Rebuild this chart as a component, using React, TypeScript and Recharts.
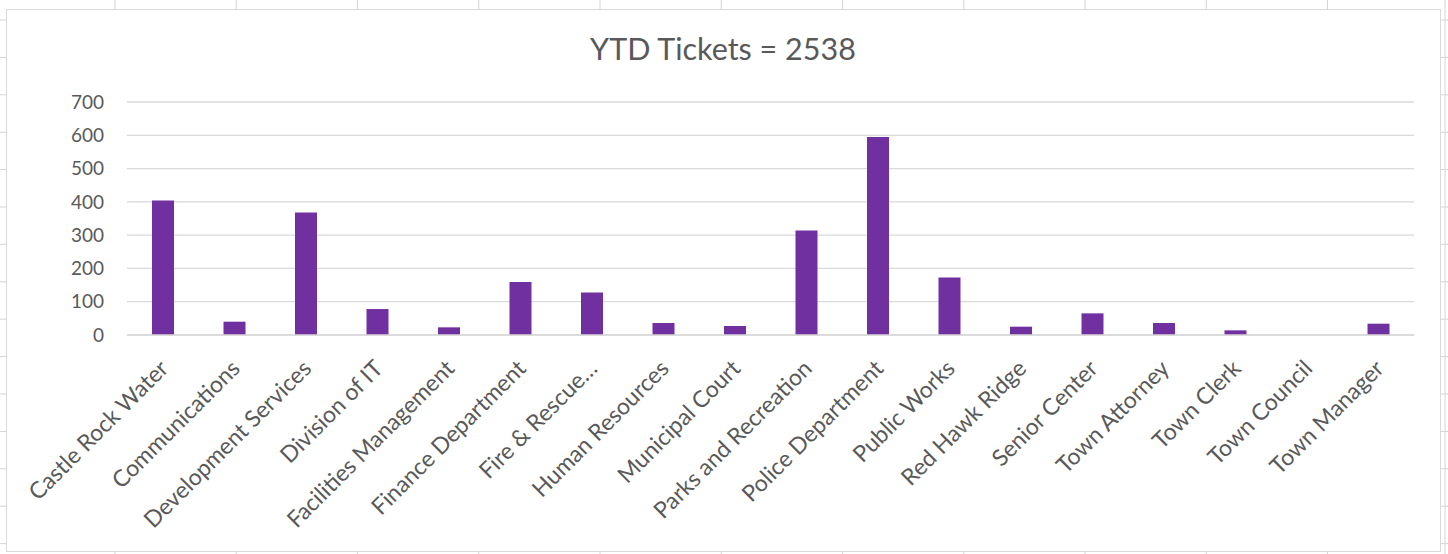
import { BarChart, Bar, XAxis, YAxis, CartesianGrid } from 'recharts';

// Departments and YTD ticket counts
const departments = [
    'Castle Rock Water',
    'Communications',
    'Development Services',
    'Division of IT',
    'Facilities Management',
    'Finance Department',
    'Fire & Rescue…',
    'Human Resources',
    'Municipal Court',
    'Parks and Recreation',
    'Police Department',
    'Public Works',
    'Red Hawk Ridge',
    'Senior Center',
    'Town Attorney',
    'Town Clerk',
    'Town Council',
    'Town Manager',
];

const tickets = [404, 40, 368, 78, 23, 159, 128, 36, 27, 314, 595, 173, 25, 65, 36, 14, 0, 34];

const yTicks = [0, 100, 200, 300, 400, 500, 600, 700];

const title = 'YTD Tickets = 2538';

const data = departments.map((name, i) => ({ name, value: tickets[i] }));

const FONT = 'Lato, "Open Sans", sans-serif';
const TEXT = '#595959';
const GRID = '#d9d9d9';

// spreadsheet cells behind the chart
const rowLines = Array.from({ length: 15 }, (_, i) => 20 + i * 37.4);
const colLines = Array.from({ length: 12 }, (_, i) => 115 + i * 121.25);

const AngledTick = ({ x, y, payload }: any) => {
    const ax = x + 7;
    const ay = y + 35;
    return (
        <text
            x={ax}
            y={ay}
            transform={`rotate(-45, ${ax}, ${ay})`}
            textAnchor="end"
            fill={TEXT}
            fontSize={23}
            fontFamily={FONT}
        >
            {payload.value}
        </text>
    );
};

export default function App() {
    return (
        <div
            style={{
                position: 'absolute',
                left: 0,
                top: 0,
                width: 1448,
                height: 554,
                background: '#fff',
                overflow: 'hidden',
            }}
        >
            <svg width={1448} height={554} style={{ position: 'absolute', left: 0, top: 0 }}>
                {rowLines.map((y) => (
                    <line key={`r${y}`} x1={0} x2={1448} y1={y} y2={y} stroke="#d4d4d4" />
                ))}
                {colLines.map((x) => (
                    <line key={`c${x}`} x1={x} x2={x} y1={0} y2={554} stroke="#d4d4d4" />
                ))}
                <line x1={1445} x2={1445} y1={0} y2={554} stroke="#d4d4d4" />
            </svg>

            {/* chart box */}
            <div
                style={{
                    position: 'absolute',
                    left: 6,
                    top: 9,
                    width: 1435,
                    height: 543,
                    background: '#fff',
                    border: `1.5px solid ${GRID}`,
                    boxSizing: 'border-box',
                }}
            />

            <div
                style={{
                    position: 'absolute',
                    left: 0,
                    top: 28,
                    width: 1446,
                    textAlign: 'center',
                    fontFamily: FONT,
                    fontSize: 30.5,
                    color: TEXT,
                    lineHeight: '40px',
                }}
            >
                {title}
            </div>

            <div style={{ position: 'absolute', left: 0, top: 0 }}>
                <BarChart
                    width={1448}
                    height={554}
                    data={data}
                    margin={{ top: 102, right: 34, bottom: 0, left: 67 }}
                >
                    <CartesianGrid vertical={false} stroke={GRID} strokeWidth={1.3} />
                    <XAxis
                        dataKey="name"
                        interval={0}
                        height={219}
                        tickLine={false}
                        tickSize={0}
                        tickMargin={0}
                        axisLine={{ stroke: GRID, strokeWidth: 1.3 }}
                        tick={<AngledTick />}
                    />
                    <YAxis
                        width={60}
                        domain={[0, 700]}
                        ticks={yTicks}
                        axisLine={false}
                        tickLine={false}
                        tickSize={0}
                        tickMargin={23}
                        tick={{ fill: TEXT, fontSize: 19, fontFamily: FONT }}
                    />
                    <Bar dataKey="value" fill="#7030A0" barSize={22} isAnimationActive={false} />
                </BarChart>
            </div>
        </div>
    );
}
